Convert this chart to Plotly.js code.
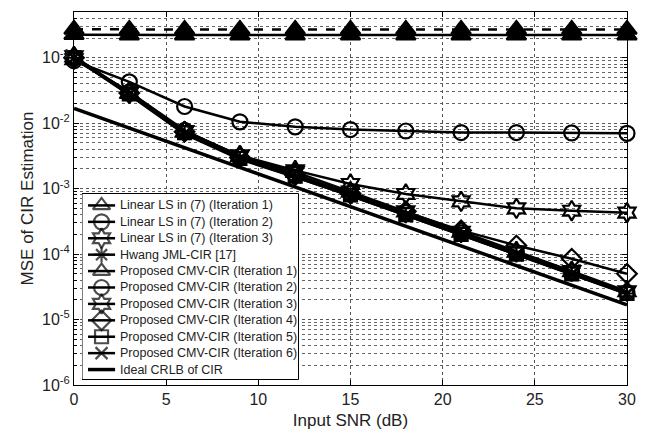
<!DOCTYPE html>
<html>
<head>
<meta charset="utf-8">
<script src="https://cdn.plot.ly/plotly-3.0.1.min.js"></script>
<style>html,body{margin:0;padding:0;background:#fff;}#chart{width:648px;height:435px;}</style>
</head>
<body>
<div id="chart"></div>
<script>
// Input SNR (dB)
const snr = [0, 3, 6, 9, 12, 15, 18, 21, 24, 27, 30];

// MSE of CIR estimation
const lsIter1  = [0.225, 0.222, 0.222, 0.222, 0.222, 0.222, 0.222, 0.222, 0.222, 0.222, 0.222];
const lsIter2  = [0.09, 0.0427, 0.018, 0.0105, 0.0088, 0.0080, 0.0076, 0.0072, 0.0072, 0.0071, 0.0070];
const lsIter3  = [0.095, 0.030, 0.0075, 0.0032, 0.0019, 0.00118, 0.00083, 0.00064, 0.00050, 0.00046, 0.00043];
const hwangJml = [0.10, 0.027, 0.0068, 0.0028, 0.0015, 0.00078, 0.00039, 0.000195, 0.000098, 0.000050, 0.000025];
const cmvIter1 = [0.272, 0.27, 0.27, 0.27, 0.27, 0.27, 0.27, 0.27, 0.27, 0.27, 0.27];
const cmvIter2 = [0.10, 0.030, 0.0078, 0.0031, 0.00165, 0.00085, 0.00043, 0.00021, 0.000105, 0.000053, 0.000026];
const cmvIter3 = [0.105, 0.029, 0.0075, 0.0032, 0.0018, 0.00090, 0.00045, 0.00022, 0.00011, 0.000055, 0.000027];
const cmvIter4 = [0.10, 0.029, 0.0074, 0.0030, 0.0016, 0.00084, 0.00045, 0.00023, 0.000135, 0.000085, 0.000050];
const cmvIter5 = [0.10, 0.028, 0.0072, 0.0029, 0.00155, 0.00080, 0.00040, 0.00020, 0.000100, 0.000050, 0.000025];
const cmvIter6 = [0.10, 0.028, 0.0070, 0.0029, 0.0015, 0.00078, 0.00039, 0.000195, 0.000097, 0.000049, 0.0000245];
const crlb     = [0.0168, 0.0084, 0.0042, 0.0021, 0.00106, 0.00053, 0.000265, 0.000133, 0.000067, 0.0000335, 0.0000168];

const names = [
  'Linear LS in (7) (Iteration 1)',
  'Linear LS in (7) (Iteration 2)',
  'Linear LS in (7) (Iteration 3)',
  'Hwang JML-CIR [17]',
  'Proposed CMV-CIR (Iteration 1)',
  'Proposed CMV-CIR (Iteration 2)',
  'Proposed CMV-CIR (Iteration 3)',
  'Proposed CMV-CIR (Iteration 4)',
  'Proposed CMV-CIR (Iteration 5)',
  'Proposed CMV-CIR (Iteration 6)',
  'Ideal CRLB of CIR'
];
const yTickVals = [1e-6, 1e-5, 1e-4, 1e-3, 1e-2, 1e-1];
const yTickText = ['10<sup>-6</sup>', '10<sup>-5</sup>', '10<sup>-4</sup>', '10<sup>-3</sup>', '10<sup>-2</sup>', '10<sup>-1</sup>'];
const xTickVals = [0, 5, 10, 15, 20, 25, 30];

const series = [lsIter1, lsIter2, lsIter3, hwangJml, cmvIter1, cmvIter2, cmvIter3, cmvIter4, cmvIter5, cmvIter6, crlb];
const symbols = ['triangle-up', 'circle-open', 'hexagram-open', 'asterisk-open', 'triangle-up', 'circle-open',
                 'hexagram-open', 'diamond-open', 'square-open', 'x-thin-open', null];
const sizes = [17, 15, 15, 13, 17, 15, 15, 15, 13, 12, 0];
const dashes = ['solid', 'solid', 'solid', 'solid', 'dash', 'solid', 'solid', 'solid', 'solid', 'solid', 'solid'];
const legendSymbols = ['triangle-up-open', 'circle-open', 'hexagram-open', 'asterisk-open', 'triangle-up-open', 'circle-open',
                       'hexagram-open', 'diamond-open', 'square-open', 'x-thin-open', null];

const textFont = 'Liberation Sans, Arial, sans-serif';

// main curves
const traces = series.map((ys, i) => {
  const t = {
    x: snr, y: ys, name: names[i], type: 'scatter', xaxis: 'x', yaxis: 'y',
    mode: symbols[i] ? 'lines+markers' : 'lines',
    line: {color: '#000', width: i === 10 ? 3.5 : 2.5, dash: dashes[i]},
    cliponaxis: false, showlegend: false
  };
  if (symbols[i]) {
    t.marker = {symbol: symbols[i], size: sizes[i], color: '#000', line: {color: '#000', width: 2.2}};
  }
  return t;
});

// legend drawn on its own small subplot (pixel-like coordinates)
const legX0 = 82, legX1 = 298, legH = 187;
traces.push({
  x: [legX0, legX1, legX1, legX0, legX0], y: [0, 0, legH, legH, 0],
  xaxis: 'x2', yaxis: 'y2', type: 'scatter', mode: 'lines', fill: 'toself',
  fillcolor: '#fff', line: {color: '#000', width: 1}, showlegend: false, hoverinfo: 'skip'
});
const annotations = [];
names.forEach((nm, i) => {
  const yc = 12 + 16.5 * i;
  const ms = legendSymbols[i] ? Math.min(sizes[i], 15) : 0;
  traces.push({
    x: [88, 101.5, 115], y: [yc, yc, yc], xaxis: 'x2', yaxis: 'y2', type: 'scatter',
    mode: legendSymbols[i] ? 'lines+markers' : 'lines',
    line: {color: '#000', width: i === 10 ? 3.5 : 2.5},
    marker: {symbol: legendSymbols[i] || 'circle', size: [0, ms, 0], color: '#000',
             line: {color: '#000', width: [0, 2.2, 0]}},
    showlegend: false, hoverinfo: 'skip', cliponaxis: false
  });
  annotations.push({
    xref: 'x2', yref: 'y2', x: 118, y: yc, xanchor: 'left', yanchor: 'middle',
    text: nm, showarrow: false, font: {family: textFont, size: 12.5, color: '#222'}
  });
});

const layout = {
  width: 648, height: 435,
  margin: {l: 74, r: 21, t: 12, b: 50},
  paper_bgcolor: '#fff', plot_bgcolor: '#fff',
  font: {family: textFont, size: 14, color: '#222'},
  showlegend: false,
  xaxis: {
    domain: [0, 1], anchor: 'y',
    range: [0, 30], tickvals: xTickVals, ticks: 'inside', ticklen: 5, tickcolor: '#000',
    showline: true, linecolor: '#000', linewidth: 1, mirror: 'ticks',
    showgrid: true, gridcolor: '#555', griddash: 'dot', gridwidth: 1,
    zeroline: false, tickfont: {size: 16, color: '#222'},
    title: {text: 'Input SNR (dB)', font: {size: 17, color: '#222'}, standoff: 6}
  },
  yaxis: {
    domain: [0, 1], anchor: 'x',
    type: 'log', range: [-6, Math.log10(0.5)],
    tickvals: yTickVals, ticktext: yTickText, ticks: 'inside', ticklen: 5, tickcolor: '#000',
    showline: true, linecolor: '#000', linewidth: 1, mirror: 'ticks',
    showgrid: true, gridcolor: '#555', griddash: 'dot', gridwidth: 1,
    zeroline: false, tickfont: {size: 16, color: '#222'},
    minor: {dtick: 'D1', showgrid: true, gridcolor: '#666', griddash: 'dot', gridwidth: 1,
            ticks: 'inside', ticklen: 3, tickcolor: '#000'},
    title: {text: 'MSE of CIR Estimation', font: {size: 17, color: '#222'}, standoff: 4}
  },
  xaxis2: {
    domain: [(legX0 - 74) / 553, (legX1 - 74) / 553 + 0.002], anchor: 'y2',
    range: [legX0, legX1 + 0.6], visible: false, fixedrange: true
  },
  yaxis2: {
    domain: [(385 - 380) / 373, (385 - 193) / 373], anchor: 'x2',
    range: [legH + 0.5, -0.5], autorange: false, visible: false, fixedrange: true
  },
  annotations: annotations
};

Plotly.newPlot('chart', traces, layout, {displayModeBar: false, staticPlot: true});
</script>
</body>
</html>
